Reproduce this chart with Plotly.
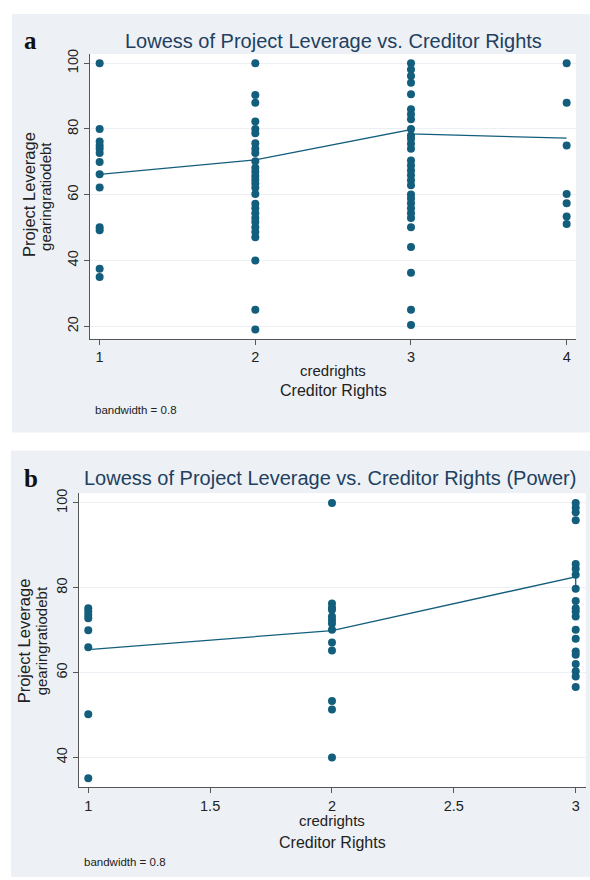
import plotly.graph_objects as go

W, H = 590, 880

# ---- Panel a: project leverage by creditor rights (all projects) ----
a_cr1 = [100, 80, 76.2, 75, 74, 72.7, 70, 66.2, 62.2, 50.1, 49.2, 37.5, 35]
a_cr2 = [100, 90.3, 88, 82.3, 80, 78.7, 75.7, 74, 72.7, 70.2, 68.2, 67, 65.7,
         64.6, 63.4, 62.1, 60.2, 57.3, 55.9, 54.4, 52.9, 51.7, 50.1, 48.7,
         47.1, 40, 25, 19]
a_cr3 = [100, 98.1, 96.1, 94.1, 90.6, 86, 84.5, 83, 80, 78, 77, 75.5, 74,
         70.4, 68.9, 67.4, 65.9, 64.4, 62.9, 60.1, 58.9, 57.4, 55.9, 54.4,
         52.9, 50.1, 44.1, 36.3, 25, 20.4]
a_cr4 = [100, 88, 75, 60.2, 57.4, 53.4, 51.1]
a_lowess_x = [1, 2, 3, 3, 4]
a_lowess_y = [66.2, 70.6, 79.8, 78.5, 77.2]

# ---- Panel b: power projects ----
b_cr1 = [75.2, 74.4, 73.6, 72.8, 70, 66, 50.2, 35.1]
b_cr2 = [100, 76.3, 75.3, 74.8, 73.2, 72.4, 71.6, 70.1, 67.1, 65.2, 53.3,
         51.3, 40]
b_cr3 = [100, 98.9, 97.8, 95.9, 85.6, 84.5, 83.1, 79.8, 76.9, 75.2, 74.4,
         73.2, 70.1, 68, 65, 64.2, 62, 60.3, 59.1, 56.6]
b_lowess_x = [1, 2, 3, 3]
b_lowess_y = [65.4, 69.9, 82.6, 80.2]

a_yticks = [20, 40, 60, 80, 100]
a_xticks = [1, 2, 3, 4]
b_yticks = [40, 60, 80, 100]
b_xticks = [1, 1.5, 2, 2.5, 3]

DOT = "#135e7c"
TITLE = "#22405f"
BG = "#edf1f5"
GRID = "#eceff3"
AXIS = "#555555"
FONT = "Liberation Sans, Arial, sans-serif"


def px_x(v):
    return v / W


def px_y(v):
    return 1 - v / H


def stack(groups):
    xs, ys = [], []
    for level, vals in groups:
        xs += [level] * len(vals)
        ys += vals
    return xs, ys


fig = go.Figure()

ax_x, ax_y = stack([(1, a_cr1), (2, a_cr2), (3, a_cr3), (4, a_cr4)])
bx_x, bx_y = stack([(1, b_cr1), (2, b_cr2), (3, b_cr3)])

fig.add_trace(go.Scatter(x=ax_x, y=ax_y, mode="markers", xaxis="x", yaxis="y",
                         marker=dict(color=DOT, size=8), showlegend=False))
fig.add_trace(go.Scatter(x=a_lowess_x, y=a_lowess_y, mode="lines", xaxis="x", yaxis="y",
                         line=dict(color=DOT, width=1.3), showlegend=False))
fig.add_trace(go.Scatter(x=bx_x, y=bx_y, mode="markers", xaxis="x2", yaxis="y2",
                         marker=dict(color=DOT, size=8), showlegend=False))
fig.add_trace(go.Scatter(x=b_lowess_x, y=b_lowess_y, mode="lines", xaxis="x2", yaxis="y2",
                         line=dict(color=DOT, width=1.3), showlegend=False))

# plot regions in pixels (left, top, right, bottom)
A = (90, 49.3, 576, 335.7)
B = (79, 491, 585.7, 786.7)

axis_common = dict(showline=True, linecolor=AXIS, linewidth=1, ticks="outside",
                   ticklen=5, tickcolor=AXIS, tickwidth=1, zeroline=False,
                   tickfont=dict(family=FONT, size=14.5, color="#222"))

fig.update_layout(
    width=W, height=H, margin=dict(l=0, r=0, t=0, b=0),
    paper_bgcolor="white", plot_bgcolor="white",
    xaxis=dict(domain=[px_x(A[0]), px_x(A[2])], range=[0.938, 4.06],
               tickvals=a_xticks, showgrid=False, anchor="y", **axis_common),
    yaxis=dict(domain=[px_y(A[3]), px_y(A[1])], range=[16.2, 102.8],
               tickvals=a_yticks, showgrid=True, gridcolor=GRID, gridwidth=1,
               tickangle=-90, anchor="x", **axis_common),
    xaxis2=dict(domain=[px_x(B[0]), px_x(B[2])], range=[0.962, 3.041],
                tickvals=b_xticks, ticktext=["1", "1.5", "2", "2.5", "3"],
                showgrid=False, anchor="y2", **axis_common),
    yaxis2=dict(domain=[px_y(B[3]), px_y(B[1])], range=[32.97, 102.3],
                tickvals=b_yticks, showgrid=True, gridcolor=GRID, gridwidth=1,
                tickangle=-90, anchor="x2", **axis_common),
)

# grey graph regions behind white plot regions
shapes = []
for (x0, y0, x1, y1) in [(12, 9, 590, 430), (11, 448, 590, 877)]:
    shapes.append(dict(type="rect", xref="paper", yref="paper", layer="below",
                       x0=px_x(x0), x1=px_x(x1), y0=px_y(y1), y1=px_y(y0),
                       fillcolor=BG, line=dict(width=0)))
for (x0, y0, x1, y1) in [A, B]:
    shapes.append(dict(type="rect", xref="paper", yref="paper", layer="below",
                       x0=px_x(x0), x1=px_x(x1), y0=px_y(y1), y1=px_y(y0),
                       fillcolor="white", line=dict(width=0)))
fig.update_layout(shapes=shapes)


def note(text, x, y, size, color="#222", family=FONT, angle=0, xanchor="center", bold=False):
    if bold:
        text = "<b>" + text + "</b>"
    fig.add_annotation(text=text, xref="paper", yref="paper", x=px_x(x), y=px_y(y),
                       showarrow=False, textangle=angle, xanchor=xanchor, yanchor="middle",
                       font=dict(family=family, size=size, color=color))


SERIF = "Liberation Serif, Times New Roman, serif"

# panel a texts
note("a", 30, 36, 25, color="#111", family=SERIF, bold=True)
note("Lowess of Project Leverage vs. Creditor Rights", 333, 36, 20, color=TITLE)
note("Project Leverage", 29, 191, 16.5, angle=-90)
note("gearingratiodebt", 46, 193, 15, angle=-90)
note("credrights", 333, 368, 15)
note("Creditor Rights", 333, 388, 16)
note("bandwidth = 0.8", 93, 407, 11.5, xanchor="left")

# panel b texts
note("b", 31, 476, 25, color="#111", family=SERIF, bold=True)
note("Lowess of Project Leverage vs. Creditor Rights (Power)", 330, 476, 20, color=TITLE)
note("Project Leverage", 24, 640, 16.5, angle=-90)
note("gearingratiodebt", 41, 640, 15, angle=-90)
note("credrights", 332, 820, 15)
note("Creditor Rights", 332, 842, 16)
note("bandwidth = 0.8", 82, 862, 11.5, xanchor="left")

fig.write_html("out.html")
